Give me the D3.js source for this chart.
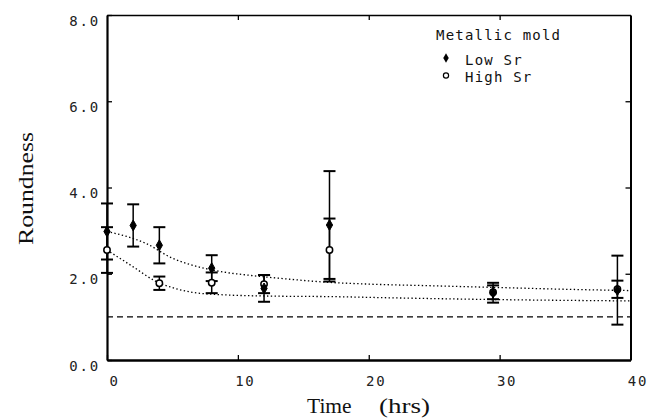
<!DOCTYPE html>
<html>
<head>
<meta charset="utf-8">
<script src="https://cdn.jsdelivr.net/npm/d3@7"></script>
<style>
  body { margin: 0; background: #fff; }
  svg { display: block; }
</style>
</head>
<body>
<svg id="chart" width="661" height="420"></svg>
<script>
// Roundness of Si particles vs. solution time, metallic mold
const lowTime   = [0, 2, 4, 8, 12, 17, 29.5, 39];
const lowRound  = [2.98, 3.12, 2.66, 2.13, 1.66, 3.13, 1.56, 1.62];
const lowErr    = [0.65, 0.49, 0.42, 0.30, 0.31, 1.25, 0.23, 0.80];

const highTime  = [0, 4, 8, 12, 17, 29.5, 39];
const highRound = [2.55, 1.78, 1.79, 1.76, 2.55, 1.57, 1.64];
const highErr   = [0.53, 0.155, 0.24, 0.21, 0.73, 0.16, 0.20];

// fitted decay curves (dotted)
const lowFitT  = [0, 3, 5, 6.5, 8.5, 11, 13, 17, 20, 25, 30, 35, 40];
const lowFitV  = [2.98, 2.70, 2.36, 2.20, 2.06, 1.96, 1.90, 1.80, 1.76, 1.72, 1.68, 1.64, 1.61];
const highFitT = [0, 2, 3.7, 5.2, 6.5, 9, 13, 17, 22, 30, 40];
const highFitV = [2.55, 2.16, 1.83, 1.66, 1.57, 1.51, 1.48, 1.47, 1.44, 1.40, 1.37];

// reference level (dashed)
const refLevel = [1.0];

const xTicks = [0, 10, 20, 30, 40];
const yTicks = [0, 2, 4, 6, 8];

const svg = d3.select("#chart");
const x = d3.scaleLinear().domain([0, 40]).range([107, 630.5]);
const y = d3.scaleLinear().domain([0, 8]).range([360, 15]);

const monoFont = "'DejaVu Sans Mono', monospace";
const serifFont = "'Liberation Serif', 'Times New Roman', serif";

// axes
const fmt = d3.format(".1f");
const gLeft = svg.append("g").attr("transform", `translate(${x(0)},0)`)
  .call(d3.axisLeft(y).tickValues(yTicks).tickFormat(fmt).tickSize(-5).tickSizeOuter(0).tickPadding(7));
gLeft.selectAll("text").attr("dy", "0.72em");

const gBottom = svg.append("g").attr("transform", `translate(0,${y(0)})`)
  .call(d3.axisBottom(x).tickValues(xTicks).tickFormat(d3.format("d")).tickSize(-5).tickSizeOuter(0).tickPadding(16));
gBottom.selectAll("text").attr("dx", 7);

const gTop = svg.append("g").attr("transform", `translate(0,${y(8)})`)
  .call(d3.axisTop(x).tickValues([10, 20, 30]).tickFormat("").tickSize(-5).tickSizeOuter(0));
const gRight = svg.append("g").attr("transform", `translate(${x(40)},0)`)
  .call(d3.axisRight(y).tickValues([2, 4, 6]).tickFormat("").tickSize(-5).tickSizeOuter(0));

[gLeft, gBottom, gTop, gRight].forEach(g => {
  g.selectAll("path.domain").attr("stroke", "#000");
  g.selectAll("line").attr("stroke", "#000").attr("stroke-width", 1.3);
  g.selectAll("text")
    .attr("font-family", monoFont)
    .attr("font-size", 14)
    .attr("letter-spacing", 1.8)
    .attr("fill", "#222");
});
gLeft.select("path.domain").attr("stroke-width", 2.2);
gBottom.select("path.domain").attr("stroke-width", 2.4);
gTop.select("path.domain").attr("stroke-width", 1.4);
gRight.select("path.domain").attr("stroke-width", 2);

// axis titles
svg.append("text")
  .attr("transform", `translate(33,${188.5}) rotate(-90)`)
  .attr("text-anchor", "middle")
  .attr("font-family", serifFont)
  .attr("font-size", 21)
  .attr("textLength", 113)
  .attr("lengthAdjust", "spacingAndGlyphs")
  .attr("fill", "#111")
  .text("Roundness");

const xt = svg.append("text")
  .attr("y", 413)
  .attr("font-family", serifFont)
  .attr("font-size", 21)
  .attr("fill", "#111");
xt.append("tspan").attr("x", 307).attr("textLength", 50).attr("lengthAdjust", "spacingAndGlyphs").text("Time ");
xt.append("tspan").attr("x", 379).attr("textLength", 51).attr("lengthAdjust", "spacingAndGlyphs").text("(hrs)");

// reference dashed line
svg.selectAll("line.ref").data(refLevel).join("line")
  .attr("class", "ref")
  .attr("x1", x(0)).attr("x2", x(40))
  .attr("y1", d => y(d)).attr("y2", d => y(d))
  .attr("stroke", "#000").attr("stroke-width", 1.4)
  .attr("stroke-dasharray", "6,4");

// fitted curves
const line = d3.line().x(d => x(d[0])).y(d => y(d[1])).curve(d3.curveMonotoneX);
[[lowFitT, lowFitV], [highFitT, highFitV]].forEach(([ts, vs]) => {
  svg.append("path")
    .attr("d", line(d3.zip(ts, vs)))
    .attr("fill", "none")
    .attr("stroke", "#000")
    .attr("stroke-width", 1.3)
    .attr("stroke-dasharray", "1.4,2.4");
});

// error bars
function errorBars(ts, vs, es) {
  const g = svg.append("g").attr("stroke", "#000").attr("stroke-width", 1.5);
  const data = d3.zip(ts, vs, es);
  g.selectAll("line.v").data(data).join("line")
    .attr("x1", d => x(d[0])).attr("x2", d => x(d[0]))
    .attr("y1", d => y(d[1] + d[2])).attr("y2", d => y(d[1] - d[2]));
  g.selectAll("line.t").data(data).join("line")
    .attr("x1", d => x(d[0]) - 6).attr("x2", d => x(d[0]) + 6)
    .attr("y1", d => y(d[1] + d[2])).attr("y2", d => y(d[1] + d[2]))
    .attr("stroke-width", 2);
  g.selectAll("line.b").data(data).join("line")
    .attr("x1", d => x(d[0]) - 6).attr("x2", d => x(d[0]) + 6)
    .attr("y1", d => y(d[1] - d[2])).attr("y2", d => y(d[1] - d[2]))
    .attr("stroke-width", 2);
}
errorBars(highTime, highRound, highErr);
errorBars(lowTime, lowRound, lowErr);

// markers
const diamond = d3.symbol().type(d3.symbolDiamond).size(34);
svg.append("g").selectAll("circle").data(d3.zip(highTime, highRound)).join("circle")
  .attr("cx", d => x(d[0])).attr("cy", d => y(d[1])).attr("r", 3.2)
  .attr("fill", "#fff").attr("stroke", "#000").attr("stroke-width", 1.5);
svg.append("g").selectAll("path").data(d3.zip(lowTime, lowRound)).join("path")
  .attr("d", diamond)
  .attr("transform", d => `translate(${x(d[0])},${y(d[1])})`)
  .attr("fill", "#000").attr("stroke", "#000").attr("stroke-width", 1);

// legend
const leg = svg.append("g").attr("font-family", monoFont).attr("font-size", 14)
  .attr("letter-spacing", 1.2).attr("fill", "#111");
leg.append("text").attr("x", 436).attr("y", 39.5).text("Metallic mold");
leg.append("path").attr("d", d3.symbol().type(d3.symbolDiamond).size(26))
  .attr("transform", "translate(446,58)").attr("fill", "#000");
leg.append("text").attr("x", 465).attr("y", 65).text("Low Sr");
leg.append("circle").attr("cx", 446).attr("cy", 75.5).attr("r", 2.6)
  .attr("fill", "#fff").attr("stroke", "#000").attr("stroke-width", 1.2);
leg.append("text").attr("x", 465).attr("y", 82).text("High Sr");
</script>
</body>
</html>
